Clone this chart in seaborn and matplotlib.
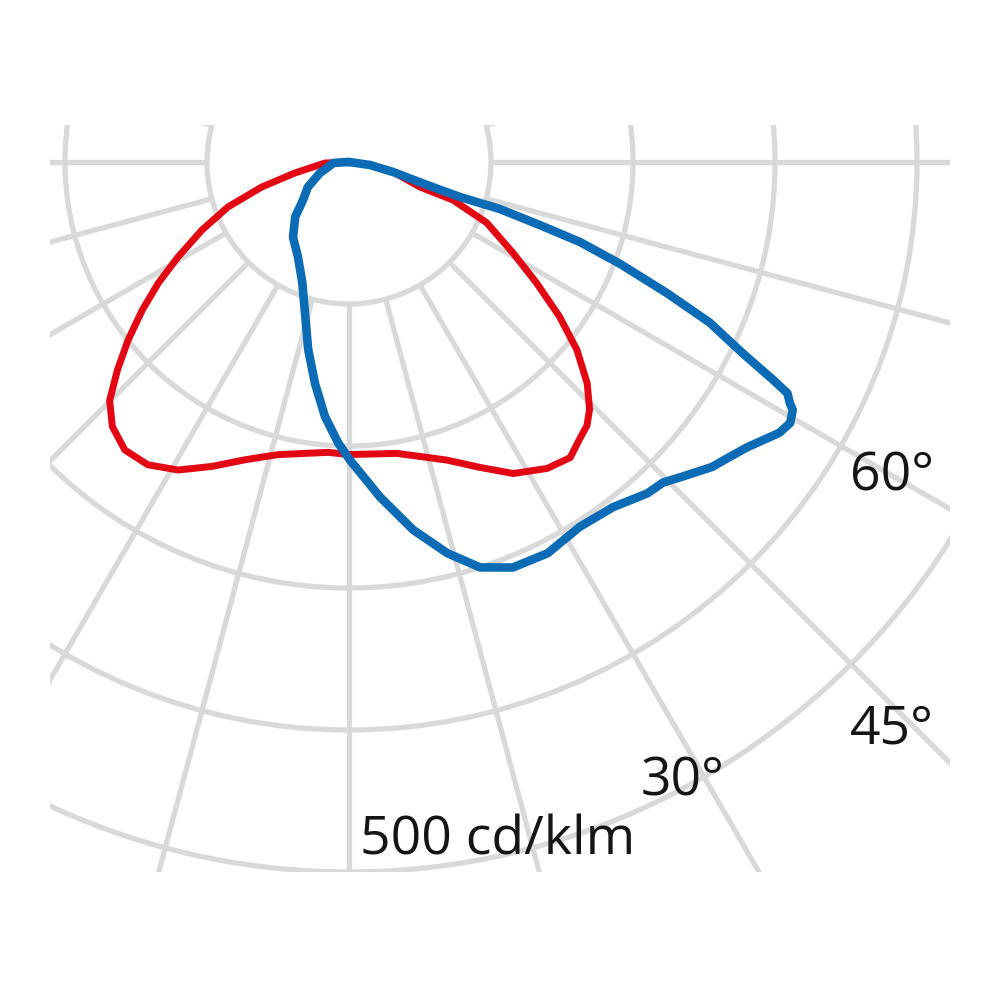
import numpy as np
import pandas as pd
import matplotlib
matplotlib.use("Agg")
import matplotlib.pyplot as plt
import seaborn as sns
from matplotlib.patches import Rectangle, Circle

# ---- data (angle in degrees from nadir, intensity in cd/klm) ----
red_angles = [-90, -87.6, -78.5, -74.0, -69.6, -65.2, -60.9, -57.6, -54.4, -51.1,
              -48.1, -45.1, -41.8, -37.9, -33.6, -29.0, -24.2, -19.2, -13.6, -4.1,
              0, 9.4, 18.2, 23.2, 27.8, 32.9, 36.8, 39.7, 42.1, 44.2, 47.1, 50.5,
              53.7, 57.2, 61.0, 66.2, 69.9, 70.6, 77.2, 81.9, 90]
red_values = [0, 17, 39, 64, 91, 114, 138, 159, 179, 200,
              219, 238, 250, 257, 256, 248, 235, 222, 212, 205,
              206, 208, 221, 234, 248, 257, 260, 254, 250, 243, 229, 208,
              184, 157, 132, 106, 78, 53, 32, 15, 0]

blue_angles = [-90, -86.4, -76.6, -69.2, -58.6, -50.4, -44.5, -36.7, -28.2, -21.2,
               -15.8, -12.3, -8.7, -5.4, -2.2, 0.2, 5.3, 9.9, 14.1, 17.9, 22.0,
               26.9, 32.3, 37.4, 42.0, 44.4, 46.4, 50.0, 52.2, 54.4, 57.8, 59.4,
               60.8, 61.3, 62.2, 62.8, 64.1, 66.0, 67.6, 69.4, 70.9, 71.7, 72.7,
               72.5, 73.6, 77.2, 81.9, 90]
blue_values = [0, 11, 15, 22, 34, 42, 54, 66, 76, 91,
               113, 135, 158, 180, 198, 210, 237, 263, 284, 300, 308,
               309, 304, 306, 314, 316, 322, 334, 339, 345, 358, 361,
               358, 354, 349, 336, 308, 278, 242, 204, 172, 142, 111,
               82, 57, 32, 15, 0]

ring_values = [100, 200, 300, 400, 500]
spoke_angles = list(range(0, 360, 15))
angle_labels = ["60°", "45°", "30°"]
angle_label_pos = [(382.4, -231.0), (382.4, -409.2), (235.2, -445.8)]
unit_label = "500 cd/klm"
unit_label_pos = (104.9, -488.0)

RED = "#e30613"
BLUE = "#0b6cb5"
GRID = "#d9d9d9"


def to_xy(angles, values):
    a = np.deg2rad(np.asarray(angles, dtype=float))
    v = np.asarray(values, dtype=float)
    return v * np.sin(a), -v * np.cos(a)


sns.set_theme(style="white")
plt.rcParams["font.family"] = ["Open Sans", "DejaVu Sans"]

fig = plt.figure(figsize=(10, 10), dpi=100)
ax = fig.add_axes([0, 0, 1, 1])
px = 1.42  # pixels per cd/klm
XL = (-349 / px, 651 / px)
YL = (-838 / px, 162 / px)

# clipping window of the grid
x0, x1 = (50 - 349) / px, (950 - 349) / px
y0, y1 = (162 - 872) / px, (162 - 125) / px
clip = Rectangle((x0, y0), x1 - x0, y1 - y0, transform=ax.transData)

gl_w = 3.8
for r in ring_values:
    c = Circle((0, 0), r, fill=False, edgecolor=GRID, linewidth=gl_w, zorder=1)
    ax.add_patch(c)
    c.set_clip_path(clip)

inner = ring_values[0]
for ang in spoke_angles:
    xs, ys = to_xy([ang, ang], [inner, 1200])
    ln, = ax.plot(xs, ys, color=GRID, linewidth=gl_w, zorder=1, solid_capstyle="butt")
    ln.set_clip_path(clip)

# curves
rx, ry = to_xy(red_angles, red_values)
bx, by = to_xy(blue_angles, blue_values)
df_red = pd.DataFrame({"x": rx, "y": ry})
df_blue = pd.DataFrame({"x": bx, "y": by})
sns.lineplot(data=df_red, x="x", y="y", sort=False, estimator=None, color=RED,
             linewidth=5.0, ax=ax, zorder=3, solid_joinstyle="round", solid_capstyle="round")
sns.lineplot(data=df_blue, x="x", y="y", sort=False, estimator=None, color=BLUE,
             linewidth=6.2, ax=ax, zorder=4, solid_joinstyle="round", solid_capstyle="round")
ax.set_xlim(*XL)
ax.set_ylim(*YL)
ax.set_aspect("equal")
ax.axis("off")

for lab, (lx, ly) in zip(angle_labels, angle_label_pos):
    ax.text(lx, ly, lab, ha="center", va="baseline", fontsize=38.5, color="#151515", zorder=5)
ax.text(unit_label_pos[0], unit_label_pos[1], unit_label, ha="center", va="baseline",
        fontsize=38.5, color="#151515", zorder=5)

fig.savefig("out.png", dpi=100, facecolor="white")
